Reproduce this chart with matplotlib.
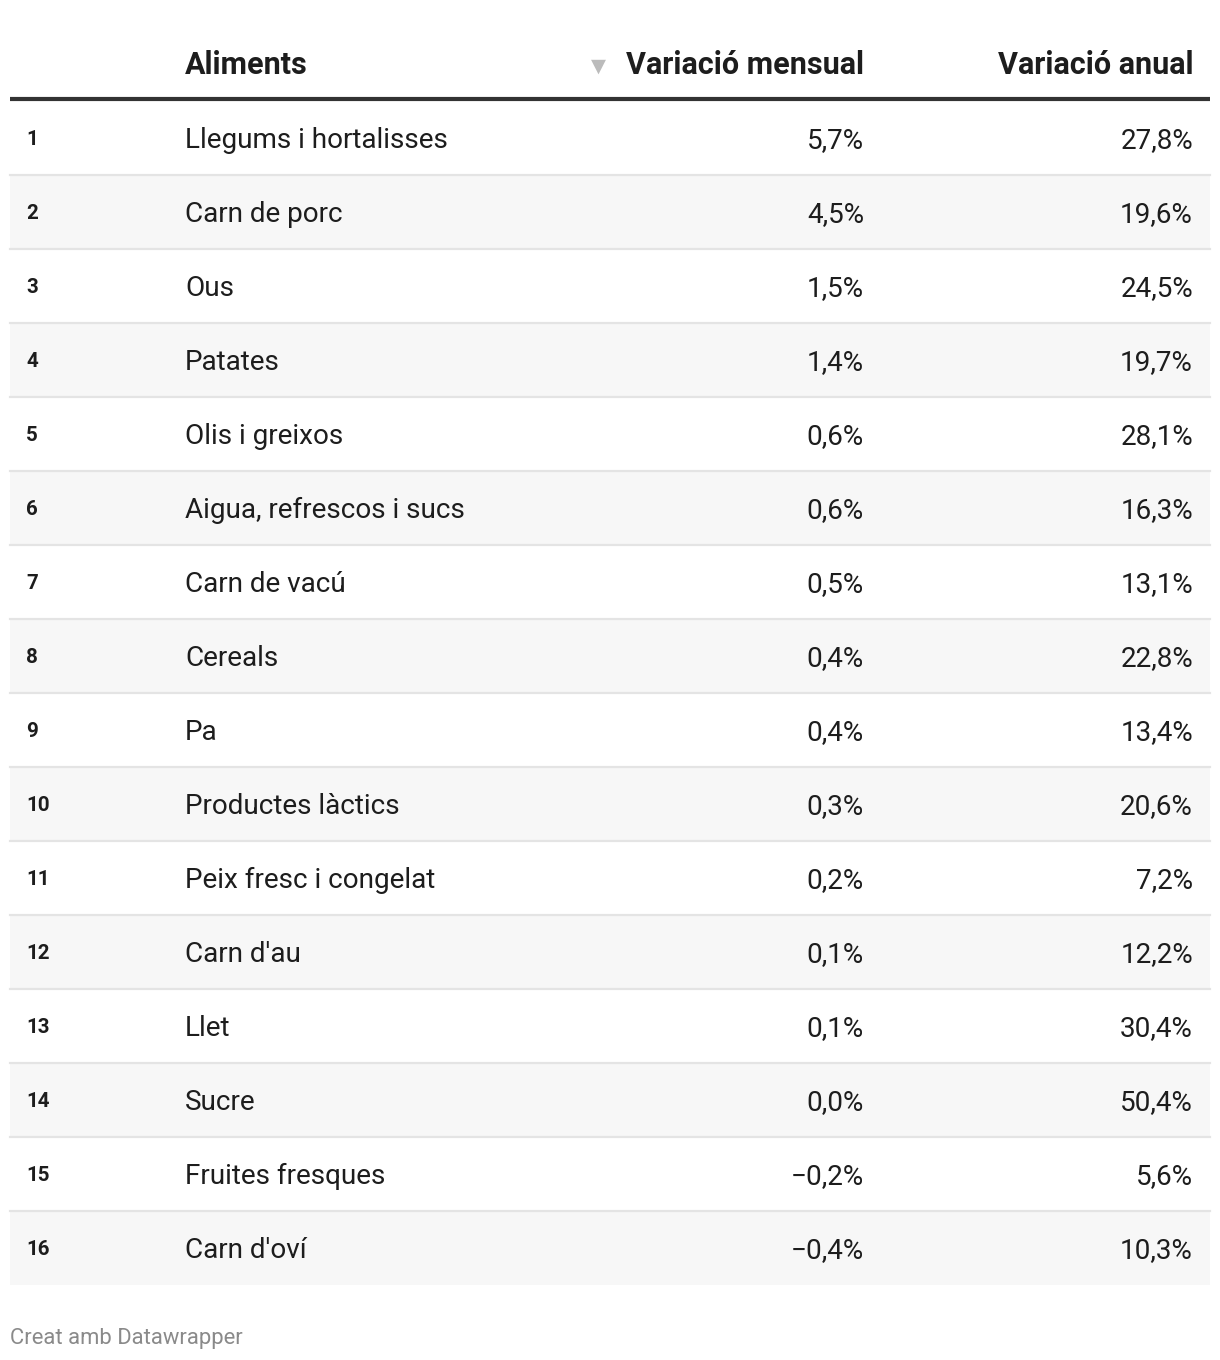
import matplotlib
matplotlib.use("Agg")
import matplotlib.pyplot as plt
from matplotlib.patches import Rectangle

plt.rcParams['font.family'] = ['Roboto', 'DejaVu Sans']

headers = ["Aliments", "Variació mensual", "Variació anual"]
ranks = list(range(1, 17))
aliments = ["Llegums i hortalisses", "Carn de porc", "Ous", "Patates", "Olis i greixos",
            "Aigua, refrescos i sucs", "Carn de vacú", "Cereals", "Pa", "Productes làctics",
            "Peix fresc i congelat", "Carn d'au", "Llet", "Sucre", "Fruites fresques", "Carn d'oví"]
var_mensual = [5.7, 4.5, 1.5, 1.4, 0.6, 0.6, 0.5, 0.4, 0.4, 0.3, 0.2, 0.1, 0.1, 0.0, -0.2, -0.4]
var_anual = [27.8, 19.6, 24.5, 19.7, 28.1, 16.3, 13.1, 22.8, 13.4, 20.6, 7.2, 12.2, 30.4, 50.4, 5.6, 10.3]
footer = "Creat amb Datawrapper"


def fmt(v):
    s = f"{abs(v):.1f}".replace(".", ",") + "%"
    return ("\u2212" + s) if v < 0 else s


W, H = 1220, 1360
fig = plt.figure(figsize=(W / 100, H / 100), dpi=100)
ax = fig.add_axes([0, 0, 1, 1])
ax.set_xlim(0, W)
ax.set_ylim(H, 0)
ax.axis("off")

left, right = 10, 1210
x_rank, x_name, x_men, x_anu = 26, 185, 864, 1193
header_base = 74
top = 101
row_h = 74
txt = "#1d1d1d"
fs_body = 20.1
fs_head = 22.0

# header
ax.text(x_name, header_base, headers[0], fontsize=fs_head, fontweight="bold", color=txt,
        ha="left", va="baseline")
ax.text(x_men, header_base, headers[1], fontsize=fs_head, fontweight="bold", color=txt,
        ha="right", va="baseline")
ax.text(x_anu, header_base, headers[2], fontsize=fs_head, fontweight="bold", color=txt,
        ha="right", va="baseline")
ax.text(598, 66, "\u25BC", fontsize=14, color="#bbbbbb", ha="center", va="center",
        family=["DejaVu Sans"])
ax.plot([left, right], [top - 2, top - 2], color="#333333", lw=3, solid_capstyle="butt")

for i, (r, name, m, a) in enumerate(zip(ranks, aliments, var_mensual, var_anual)):
    y0 = top + i * row_h
    yb = y0 + row_h / 2 + 10
    if r % 2 == 0:
        ax.add_patch(Rectangle((left, y0), right - left, row_h, facecolor="#f7f7f7",
                               edgecolor="none", zorder=0))
    if i > 0:
        ax.plot([left, right], [y0, y0], color="#e4e4e4", lw=1.6, zorder=1)
    ax.text(x_rank, yb - 3, str(r), fontsize=14.8, fontweight="bold", color=txt,
            ha="left", va="baseline")
    ax.text(x_name, yb, name, fontsize=fs_body, color=txt, ha="left", va="baseline")
    ax.text(x_men, yb, fmt(m), fontsize=fs_body, color=txt, ha="right", va="baseline")
    ax.text(x_anu, yb, fmt(a), fontsize=fs_body, color=txt, ha="right", va="baseline")

ax.text(left, 1344, footer, fontsize=15.8, color="#8a8a8a", ha="left", va="baseline")

fig.savefig("out.png", dpi=100, facecolor="white")
